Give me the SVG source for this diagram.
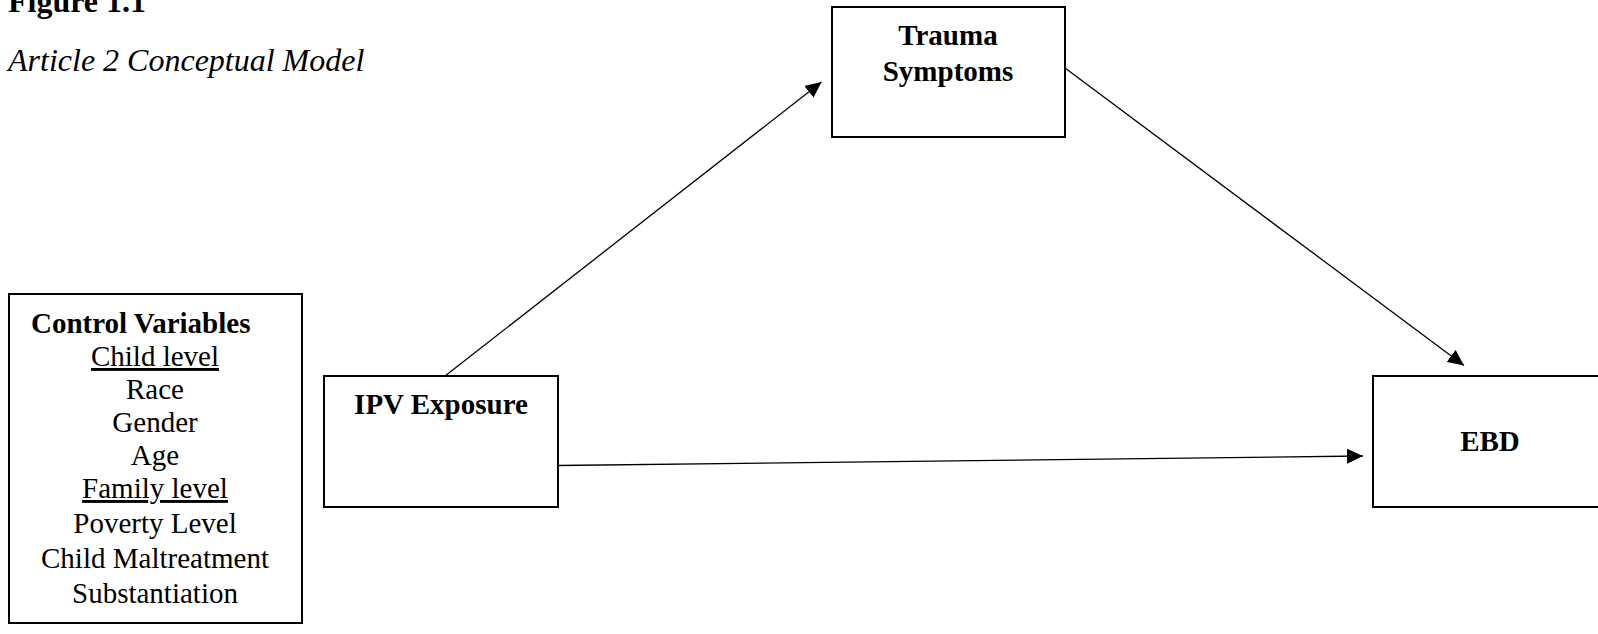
<svg xmlns="http://www.w3.org/2000/svg" width="1598" height="634" viewBox="0 0 1598 634">
<style>
.box{fill:#fff;stroke:#000;stroke-width:2}
.t{font-family:"Liberation Serif","Times New Roman",serif;fill:#000}
.b{font-weight:bold}
.c{text-anchor:middle}
.edge{stroke:#000;stroke-width:1.3;fill:none;marker-end:url(#ah)}
</style>
<defs>
<marker id="ah" markerUnits="userSpaceOnUse" markerWidth="17" markerHeight="16" refX="16" refY="7.5" orient="auto">
<path d="M0,0 L16,7.5 L0,15 z" fill="#000"/>
</marker>
</defs>
<rect width="1598" height="634" fill="#fff"/>
<text class="t b" x="8" y="12" font-size="32">Figure 1.1</text>
<text class="t" x="8" y="71" font-size="32" font-style="italic">Article 2 Conceptual Model</text>

<g id="connectors">
<line class="edge" x1="445" y1="376" x2="821.5" y2="82"/>
<line class="edge" x1="1065" y1="68" x2="1464" y2="365.5"/>
<line class="edge" x1="558" y1="465.5" x2="1363" y2="456"/>
</g>

<g id="control">
<rect class="box" x="9" y="294" width="293" height="329"/>
<text class="t b" x="31" y="333" font-size="29">Control Variables</text>
<text class="t c" x="155" y="366" font-size="29" text-decoration="underline">Child level</text>
<text class="t c" x="155" y="399" font-size="29">Race</text>
<text class="t c" x="155" y="432" font-size="29">Gender</text>
<text class="t c" x="155" y="465" font-size="29">Age</text>
<text class="t c" x="155" y="498" font-size="29" text-decoration="underline">Family level</text>
<text class="t c" x="155" y="533" font-size="29">Poverty Level</text>
<text class="t c" x="155" y="568" font-size="29">Child Maltreatment</text>
<text class="t c" x="155" y="603" font-size="29">Substantiation</text>
</g>

<g id="ipv">
<rect class="box" x="324" y="376" width="234" height="131"/>
<text class="t b c" x="441" y="414" font-size="29">IPV Exposure</text>
</g>

<g id="trauma">
<rect class="box" x="832" y="7" width="233" height="130"/>
<text class="t b c" x="948" y="45" font-size="29">Trauma</text>
<text class="t b c" x="948" y="81" font-size="29">Symptoms</text>
</g>

<g id="ebd">
<rect class="box" x="1373" y="376" width="240" height="131"/>
<text class="t b c" x="1490" y="451" font-size="29">EBD</text>
</g>
</svg>
